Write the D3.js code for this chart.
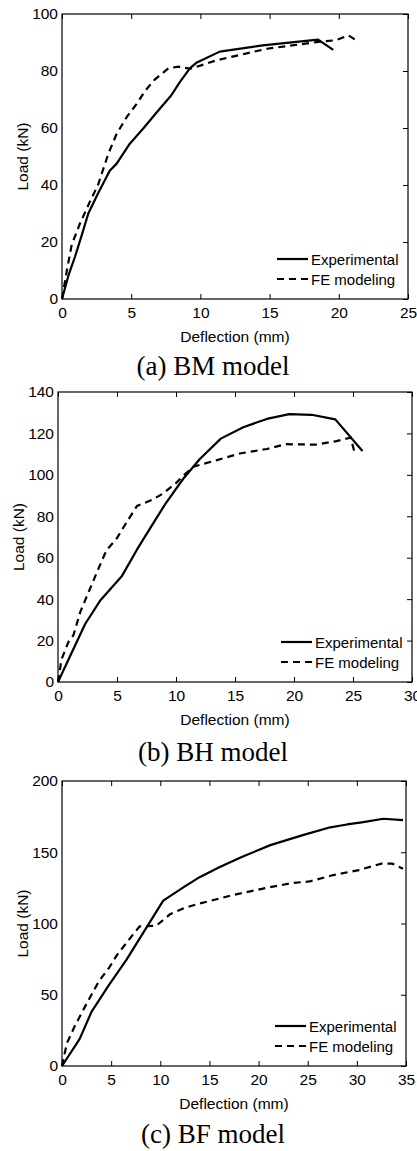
<!DOCTYPE html>
<html>
<head>
<meta charset="utf-8">
<script src="https://cdn.jsdelivr.net/npm/d3@7"></script>
<style>
  html, body { margin: 0; padding: 0; background: #fff; }
  svg { display: block; }
</style>
</head>
<body>
<div id="chart"></div>
<script>
// load-deflection curves: [deflection (mm), load (kN)]
const bmExperimental = [[0,0],[0.45,8],[0.95,15],[1.4,22],[1.9,30],[2.6,37],[3.45,45],[3.95,47.5],[4.9,54.5],[5.9,60],[6.85,65.5],[7.9,71.5],[8.5,76],[9.25,81],[9.75,83],[11.4,86.8],[14.5,89],[18.5,91],[19.6,87.4]];
const bmFE = [[0,0],[0.35,10],[0.7,19],[1.3,26.5],[2,34],[2.6,40],[3.35,51],[3.95,58],[4.7,64],[5.4,68.5],[6,73],[6.7,77],[7.7,81],[8.4,81.5],[9.3,80.8],[11.2,83.8],[14.8,87.8],[18.5,90.2],[19.8,90.8],[20.7,92.5],[21.4,90.3]];

const bhExperimental = [[0,0],[2.3,28],[3.6,39.5],[5.4,51],[6.7,64],[8,76],[9.1,86],[10.6,98],[12,107.5],[13.8,117.5],[15.7,123],[17.7,127],[19.6,129.3],[21.5,129],[23.5,126.8],[25.8,111.5]];
const bhFE = [[0,0],[0.3,11],[0.9,19.5],[1.3,22.5],[1.9,34],[2.6,43.5],[3.3,53],[4.1,63.5],[5,69.5],[5.8,77],[6.7,85],[8,88],[8.9,91],[10,96],[10.6,99.5],[11.5,104],[13.4,107],[15.4,110.3],[17.7,112.5],[19.3,114.8],[21.9,114.6],[23.6,116.3],[24.8,118],[25.1,111.5]];

const bfExperimental = [[0,0],[1.8,19],[3,38],[4.7,56],[6.6,75],[8.4,95],[10.3,116],[12.5,126],[14,132.5],[16,139.5],[18.4,147],[21.2,155],[24.5,162],[27.3,167.5],[29,169.5],[30.5,171],[32.7,173.5],[34.7,172.5]];
const bfFE = [[0,0],[0.15,5],[0.5,16],[1.3,28],[2.6,45],[3.8,60],[4.8,69],[5.6,78],[7.2,92],[7.9,98],[9.6,98.5],[11,106.5],[12.5,111],[14,114],[17.4,120],[20.8,125],[23.5,128.5],[25.2,129.5],[27.6,134],[30.2,137.5],[32.5,142],[33.6,142],[34.7,138.5]];

// axis ranges and tick steps
const xMaxes = [25, 30, 35];
const yMaxes = [100, 140, 200];
const xTickStep = 5;
const yTickSteps = [20, 20, 50];

const captions = ["(a) BM model", "(b) BH model", "(c) BF model"];
const seriesNames = ["Experimental", "FE modeling"];
const xLabel = "Deflection (mm)";
const yLabel = "Load (kN)";

// page layout (pixel boxes of each plot frame)
const frames = [
  { left: 62, right: 408, top: 14, bottom: 299, xLabelY: 342, captionY: 375 },
  { left: 58, right: 412, top: 392, bottom: 682, xLabelY: 725, captionY: 761 },
  { left: 62, right: 406, top: 781, bottom: 1066, xLabelY: 1109, captionY: 1143 },
];

const sans = "Arial, 'Liberation Sans', sans-serif";
const serif = "'Times New Roman', 'Liberation Serif', serif";
const tickFont = 15.5;
const labelFont = 15.5;

const svg = d3.select("#chart").append("svg")
  .attr("width", 417)
  .attr("height", 1151);

function drawPanel(i, experimental, fe) {
  const f = frames[i];
  const x = d3.scaleLinear().domain([0, xMaxes[i]]).range([f.left, f.right]);
  const y = d3.scaleLinear().domain([0, yMaxes[i]]).range([f.bottom, f.top]);
  const xTicks = d3.range(0, xMaxes[i] + 0.001, xTickStep);
  const yTicks = d3.range(0, yMaxes[i] + 0.001, yTickSteps[i]);

  const g = svg.append("g");

  // bottom axis: inward ticks with labels
  const bottom = g.append("g")
    .attr("transform", `translate(0,${f.bottom})`)
    .call(d3.axisBottom(x).tickValues(xTicks).tickSizeInner(-5).tickSizeOuter(0).tickPadding(8));
  // top axis: inward ticks only
  const top = g.append("g")
    .attr("transform", `translate(0,${f.top})`)
    .call(d3.axisTop(x).tickValues(xTicks).tickSizeInner(-5).tickSizeOuter(0).tickFormat(""));
  // right axis: inward ticks only
  const right = g.append("g")
    .attr("transform", `translate(${f.right},0)`)
    .call(d3.axisRight(y).tickValues(yTicks).tickSizeInner(-5).tickSizeOuter(0).tickFormat(""));
  // left axis: labels only
  const left = g.append("g")
    .attr("transform", `translate(${f.left},0)`)
    .call(d3.axisLeft(y).tickValues(yTicks).tickSize(0).tickPadding(4));

  [bottom, top, right, left].forEach((a) => {
    a.select(".domain").remove();
    a.selectAll("line").attr("stroke", "#000").attr("stroke-width", 1);
    a.selectAll("text")
      .attr("fill", "#000")
      .style("font-family", sans)
      .style("font-size", tickFont + "px");
  });

  // plot frame
  g.append("rect")
    .attr("x", f.left)
    .attr("y", f.top)
    .attr("width", f.right - f.left)
    .attr("height", f.bottom - f.top)
    .attr("fill", "none")
    .attr("stroke", "#000")
    .attr("stroke-width", 1.2);

  const line = d3.line().x((d) => x(d[0])).y((d) => y(d[1]));

  g.append("path")
    .datum(experimental)
    .attr("d", line)
    .attr("fill", "none")
    .attr("stroke", "#000")
    .attr("stroke-width", 2.2)
    .attr("stroke-linejoin", "round");

  g.append("path")
    .datum(fe)
    .attr("d", line)
    .attr("fill", "none")
    .attr("stroke", "#000")
    .attr("stroke-width", 2.2)
    .attr("stroke-dasharray", "7,5");

  // legend
  const legend = g.append("g");
  seriesNames.forEach((name, k) => {
    const ly = f.bottom - 40 + k * 20;
    legend.append("line")
      .attr("x1", f.right - 131)
      .attr("x2", f.right - 100)
      .attr("y1", ly)
      .attr("y2", ly)
      .attr("stroke", "#000")
      .attr("stroke-width", 2.2)
      .attr("stroke-dasharray", k === 1 ? "7,5" : null);
    legend.append("text")
      .attr("x", f.right - 97)
      .attr("y", ly + 5.5)
      .text(name)
      .style("font-family", sans)
      .style("font-size", "15px");
  });

  // axis titles
  g.append("text")
    .attr("x", (f.left + f.right) / 2)
    .attr("y", f.xLabelY)
    .attr("text-anchor", "middle")
    .text(xLabel)
    .style("font-family", sans)
    .style("font-size", labelFont + "px");

  g.append("text")
    .attr("transform", `translate(${f.left - 34},${(f.top + f.bottom) / 2}) rotate(-90)`)
    .attr("text-anchor", "middle")
    .text(yLabel)
    .style("font-family", sans)
    .style("font-size", labelFont + "px");

  // caption below each panel
  g.append("text")
    .attr("x", 213)
    .attr("y", f.captionY)
    .attr("text-anchor", "middle")
    .text(captions[i])
    .style("font-family", serif)
    .style("font-size", "27px");
}

drawPanel(0, bmExperimental, bmFE);
drawPanel(1, bhExperimental, bhFE);
drawPanel(2, bfExperimental, bfFE);
</script>
</body>
</html>
